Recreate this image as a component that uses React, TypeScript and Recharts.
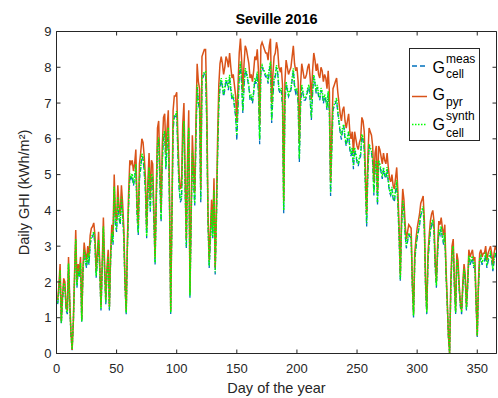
import React from 'react';
import { LineChart, Line, XAxis, YAxis, Legend, Label } from 'recharts';

const FONT = '"Liberation Sans", Arial, Helvetica, sans-serif';
const AXIS = '#262626';
const C_MEAS = '#0072BD';
const C_PYR = '#D95319';
const C_SYN = '#00FF00';

const xTicks = [0, 50, 100, 150, 200, 250, 300, 350];
const yTicks = [0, 1, 2, 3, 4, 5, 6, 7, 8, 9];

const gPyr = [
  1.5, 1.9, 2.5, 0.9, 1.6, 2.1, 2.0, 1.3, 1.2, 2.7,
  1.5, 0.6, 0.1, 0.9, 2.2, 3.45, 2.0, 2.5, 2.3, 2.7,
  0.95, 2.4, 3.1, 2.8, 2.6, 3.0, 2.7, 3.3, 3.5, 3.55,
  3.65, 3.3, 2.3, 2.8, 3.4, 2.5, 1.3, 2.5, 3.8, 2.5,
  1.5, 2.4, 2.9, 1.3, 2.8, 3.6, 3.3, 5.0, 3.9, 3.7,
  4.7, 4.1, 3.9, 4.7, 4.2, 3.5, 2.0, 1.2, 3.2, 4.5,
  5.4, 5.3, 5.4, 5.1, 5.3, 5.7, 4.2, 3.6, 5.3, 5.6,
  6.0, 5.9, 5.5, 4.9, 3.5, 4.8, 5.6, 4.3, 5.4, 5.3,
  4.0, 2.7, 4.5, 6.3, 6.5, 5.2, 4.0, 5.8, 6.6, 6.7,
  5.6, 6.3, 6.8, 4.5, 1.2, 4.0, 6.8, 7.2, 7.2, 7.3,
  6.0, 5.0, 4.6, 4.7, 6.4, 7.0, 5.0, 3.2, 5.5, 6.8,
  1.7, 4.0, 6.1, 5.2, 4.5, 6.5, 8.1, 7.6, 7.4, 4.6,
  8.3, 8.4, 8.5, 8.5, 7.0, 4.0, 2.6, 3.4, 4.3, 3.5,
  4.9, 2.4, 4.0, 6.0, 7.5, 8.1, 8.3, 8.1, 7.8, 8.0,
  8.3, 8.2, 8.0, 8.4, 8.0, 7.7, 7.8, 7.5, 7.2, 6.5,
  7.5, 8.4, 8.8, 8.2, 7.3, 8.1, 8.6, 8.5, 8.3, 8.1,
  7.7, 7.8, 7.6, 7.9, 8.3, 8.2, 8.5, 7.9, 6.4, 8.6,
  8.7, 8.6, 8.5, 8.4, 8.4, 8.2, 8.6, 8.8, 7.0, 7.8,
  8.3, 8.4, 8.7, 8.5, 8.0, 7.9, 8.0, 7.5, 4.25, 7.6,
  8.2, 8.0, 7.8, 7.9, 8.0, 8.3, 8.6, 8.1, 7.9, 8.0,
  7.6, 5.9, 7.5, 8.1, 7.9, 7.7, 7.7, 7.8, 8.0, 8.1,
  7.7, 7.1, 7.9, 8.4, 8.2, 7.9, 8.1, 7.8, 7.7, 8.0,
  7.9, 7.6, 7.8, 7.7, 7.4, 7.9, 7.3, 4.8, 6.2, 7.4,
  7.5, 7.6, 7.7, 7.3, 7.0, 6.7, 6.5, 6.8, 6.9, 6.5,
  6.3, 6.5, 6.7, 6.2, 6.0, 6.2, 5.6, 6.2, 6.0, 5.8,
  5.7, 5.9, 6.0, 6.6, 6.5, 6.2, 5.0, 3.9, 5.5, 6.3,
  6.2, 6.1, 5.8, 4.8, 5.6, 5.8, 4.5, 5.8, 5.7, 5.5,
  5.3, 5.6, 5.4, 5.3, 5.6, 5.2, 4.9, 4.8, 5.0, 4.7,
  4.6, 4.9, 5.2, 4.5, 3.5, 2.2, 3.8, 4.6, 4.3, 3.6,
  3.2, 3.4, 3.6, 3.55, 3.5, 2.0, 1.1, 2.8, 3.2, 3.5,
  3.7, 3.9, 4.2, 4.3, 4.4, 3.7, 2.0, 1.2, 2.8, 3.3,
  3.7, 3.9, 4.0, 3.7, 2.6, 2.0, 3.0, 3.7, 3.6, 3.8,
  3.5, 3.3, 3.6, 2.4, 1.5, 0.5, 0.0, 2.0, 3.0, 3.2,
  2.0, 1.2, 2.8, 2.6, 1.9, 1.4, 1.2, 2.0, 2.5, 2.2,
  1.3, 2.0, 2.9, 2.7, 2.8, 2.9, 2.6, 2.7, 1.5, 0.5,
  2.0, 2.8, 2.9, 2.7, 2.8, 2.8, 3.0, 2.6, 2.8, 2.9,
  3.0, 2.8, 2.5, 2.8, 3.0, 2.9,
];

const gMeas = [
  1.38, 1.75, 2.30, 0.83, 1.47, 1.93, 1.84, 1.20, 1.10, 2.48,
  1.38, 0.55, 0.09, 0.83, 2.02, 3.17, 1.84, 2.30, 2.12, 2.48,
  0.87, 2.21, 2.85, 2.58, 2.39, 2.76, 2.48, 3.04, 3.22, 3.27,
  3.36, 3.04, 2.12, 2.58, 3.13, 2.30, 1.20, 2.30, 3.50, 2.30,
  1.38, 2.21, 2.67, 1.20, 2.58, 3.31, 3.04, 4.60, 3.59, 3.40,
  4.32, 3.77, 3.59, 4.32, 3.86, 3.22, 1.84, 1.10, 2.94, 4.14,
  4.97, 4.88, 4.97, 4.69, 4.88, 5.24, 3.86, 3.31, 4.88, 5.15,
  5.52, 5.43, 5.06, 4.51, 3.22, 4.42, 5.15, 3.96, 4.97, 4.88,
  3.68, 2.48, 4.14, 5.80, 5.98, 4.78, 3.68, 5.34, 6.07, 6.16,
  5.15, 5.80, 6.26, 4.14, 1.10, 3.68, 6.26, 6.62, 6.62, 6.72,
  5.52, 4.60, 4.23, 4.32, 5.89, 6.44, 4.60, 2.94, 5.06, 6.26,
  1.56, 3.68, 5.61, 4.78, 4.14, 5.98, 7.45, 6.99, 6.81, 4.23,
  7.64, 7.73, 7.82, 7.82, 6.44, 3.68, 2.39, 3.13, 3.96, 3.22,
  4.51, 2.21, 3.68, 5.52, 6.90, 7.45, 7.64, 7.45, 7.18, 7.36,
  7.64, 7.54, 7.36, 7.73, 7.36, 7.08, 7.18, 6.90, 6.62, 5.95,
  6.90, 7.73, 8.10, 7.54, 6.72, 7.45, 7.91, 7.82, 7.64, 7.45,
  7.08, 7.18, 6.99, 7.27, 7.64, 7.54, 7.82, 7.27, 5.85, 7.91,
  8.00, 7.91, 7.82, 7.73, 7.73, 7.54, 7.91, 8.10, 6.44, 7.18,
  7.64, 7.73, 8.00, 7.82, 7.36, 7.27, 7.36, 6.90, 3.92, 6.99,
  7.54, 7.36, 7.18, 7.27, 7.36, 7.64, 7.91, 7.45, 7.27, 7.36,
  6.99, 5.35, 6.90, 7.45, 7.27, 7.08, 7.08, 7.18, 7.36, 7.45,
  7.08, 6.53, 7.27, 7.73, 7.54, 7.27, 7.45, 7.18, 7.08, 7.36,
  7.27, 6.99, 7.18, 7.08, 6.81, 7.27, 6.72, 4.40, 5.70, 6.81,
  6.90, 6.99, 7.08, 6.72, 6.44, 6.16, 5.98, 6.26, 6.35, 5.98,
  5.80, 5.98, 6.16, 5.70, 5.52, 5.70, 5.15, 5.70, 5.52, 5.34,
  5.24, 5.43, 5.52, 6.07, 5.98, 5.70, 4.60, 3.55, 5.06, 5.80,
  5.70, 5.61, 5.34, 4.42, 5.15, 5.34, 4.14, 5.34, 5.24, 5.06,
  4.88, 5.15, 4.97, 4.88, 5.15, 4.78, 4.51, 4.42, 4.60, 4.32,
  4.23, 4.51, 4.78, 4.14, 3.22, 2.02, 3.50, 4.23, 3.96, 3.31,
  2.94, 3.13, 3.31, 3.27, 3.22, 1.84, 1.01, 2.58, 2.94, 3.22,
  3.40, 3.59, 3.86, 3.96, 4.05, 3.40, 1.84, 1.10, 2.58, 3.04,
  3.40, 3.59, 3.68, 3.40, 2.39, 1.84, 2.76, 3.40, 3.31, 3.50,
  3.22, 3.04, 3.31, 2.21, 1.38, 0.46, 0.00, 1.84, 2.76, 2.94,
  1.84, 1.10, 2.58, 2.39, 1.75, 1.29, 1.10, 1.84, 2.30, 2.02,
  1.20, 1.84, 2.67, 2.48, 2.58, 2.67, 2.39, 2.48, 1.38, 0.46,
  1.84, 2.58, 2.67, 2.48, 2.58, 2.58, 2.76, 2.39, 2.58, 2.67,
  2.76, 2.58, 2.30, 2.58, 2.76, 2.67,
];

const gSynth = [
  1.42, 1.80, 2.33, 0.86, 1.52, 1.97, 1.90, 1.24, 1.15, 2.52,
  1.43, 0.58, 0.12, 0.88, 2.07, 3.20, 1.90, 2.35, 2.16, 2.53,
  0.90, 2.27, 2.90, 2.62, 2.45, 2.80, 2.54, 3.08, 3.27, 3.31,
  3.41, 3.09, 2.17, 2.63, 3.18, 2.35, 1.25, 2.36, 3.55, 2.35,
  1.43, 2.27, 2.72, 1.25, 2.63, 3.37, 3.10, 4.66, 3.65, 3.46,
  4.38, 3.83, 3.65, 4.38, 3.92, 3.27, 1.90, 1.14, 3.00, 4.20,
  5.03, 4.94, 5.03, 4.75, 4.94, 5.30, 3.92, 3.37, 4.94, 5.21,
  5.58, 5.49, 5.12, 4.57, 3.28, 4.48, 5.21, 4.02, 5.03, 4.94,
  3.74, 2.54, 4.20, 5.86, 6.04, 4.84, 3.74, 5.40, 6.13, 6.22,
  5.21, 5.86, 6.32, 4.20, 1.14, 3.74, 6.32, 6.68, 6.68, 6.78,
  5.58, 4.66, 4.29, 4.38, 5.95, 6.50, 4.66, 3.00, 5.12, 6.32,
  1.62, 3.74, 5.67, 4.84, 4.20, 6.04, 7.51, 7.05, 6.87, 4.29,
  7.70, 7.79, 7.88, 7.88, 6.50, 3.74, 2.45, 3.19, 4.02, 3.28,
  4.57, 2.27, 3.74, 5.58, 6.96, 7.51, 7.70, 7.51, 7.24, 7.42,
  7.70, 7.60, 7.42, 7.79, 7.42, 7.14, 7.24, 6.96, 6.68, 6.10,
  6.96, 7.79, 8.16, 7.60, 6.78, 7.51, 7.97, 7.88, 7.70, 7.51,
  7.14, 7.24, 7.05, 7.33, 7.70, 7.60, 7.88, 7.33, 6.00, 7.97,
  8.06, 7.97, 7.88, 7.79, 7.79, 7.60, 7.97, 8.16, 6.52, 7.24,
  7.70, 7.79, 8.06, 7.88, 7.42, 7.33, 7.42, 6.96, 4.00, 7.05,
  7.60, 7.42, 7.24, 7.33, 7.42, 7.70, 7.97, 7.51, 7.33, 7.42,
  7.05, 5.45, 6.96, 7.51, 7.33, 7.14, 7.14, 7.24, 7.42, 7.51,
  7.14, 6.60, 7.33, 7.79, 7.60, 7.33, 7.51, 7.24, 7.14, 7.42,
  7.33, 7.05, 7.24, 7.14, 6.87, 7.33, 6.78, 4.50, 5.76, 6.87,
  6.96, 7.05, 7.14, 6.78, 6.50, 6.22, 6.10, 6.32, 6.41, 6.04,
  5.86, 6.04, 6.22, 5.76, 5.58, 5.76, 5.25, 5.76, 5.58, 5.40,
  5.30, 5.49, 5.58, 6.13, 6.04, 5.76, 4.66, 3.65, 5.12, 5.86,
  5.76, 5.67, 5.40, 4.50, 5.21, 5.40, 4.22, 5.40, 5.30, 5.12,
  4.94, 5.21, 5.03, 4.94, 5.21, 4.84, 4.57, 4.48, 4.66, 4.38,
  4.29, 4.57, 4.84, 4.20, 3.28, 2.08, 3.56, 4.29, 4.02, 3.37,
  3.00, 3.19, 3.37, 3.33, 3.28, 1.90, 1.06, 2.64, 3.00, 3.28,
  3.46, 3.65, 3.92, 4.02, 4.11, 3.46, 1.90, 1.15, 2.64, 3.10,
  3.46, 3.65, 3.74, 3.46, 2.45, 1.90, 2.82, 3.46, 3.37, 3.56,
  3.28, 3.10, 3.37, 2.27, 1.43, 0.50, 0.02, 1.90, 2.82, 3.00,
  1.90, 1.15, 2.64, 2.45, 1.80, 1.34, 1.15, 1.90, 2.36, 2.08,
  1.25, 1.90, 2.73, 2.54, 2.64, 2.73, 2.45, 2.54, 1.43, 0.50,
  1.90, 2.64, 2.73, 2.54, 2.64, 2.64, 2.82, 2.45, 2.64, 2.73,
  2.82, 2.64, 2.36, 2.64, 2.82, 2.73,
];

const data = gPyr.map((v, i) => ({
  day: i + 1,
  pyr: v,
  meas: gMeas[i],
  synth: gSynth[i],
}));

const renderLegend = () => (
  <svg width={71} height={93} style={{ display: 'block', fontFamily: FONT }}>
    <rect x={0.5} y={0.5} width={70} height={92} fill="#fff" stroke={AXIS} strokeWidth={1} />
    <line x1={3} x2={18} y1={18} y2={18} stroke={C_MEAS} strokeWidth={1.3} strokeDasharray="5 3" />
    <text x={23.5} y={25} fontSize={16} fill="#000">G</text>
    <text x={37} y={15} fontSize={12} fill="#000">meas</text>
    <text x={37} y={30} fontSize={12} fill="#000">cell</text>

    <line x1={3} x2={18} y1={48.5} y2={48.5} stroke={C_PYR} strokeWidth={1.5} />
    <text x={23.5} y={52} fontSize={16} fill="#000">G</text>
    <text x={37} y={58} fontSize={12} fill="#000">pyr</text>

    <line x1={3} x2={18} y1={76.5} y2={76.5} stroke={C_SYN} strokeWidth={1.5} strokeDasharray="1.5 1.5" />
    <text x={23.5} y={82} fontSize={16} fill="#000">G</text>
    <text x={37} y={72} fontSize={12} fill="#000">synth</text>
    <text x={37} y={89} fontSize={12} fill="#000">cell</text>
  </svg>
);

const tickStyle = { fill: AXIS, fontSize: 13, fontFamily: FONT };
const noTickLabel = () => <g />;

export default function App() {
  return (
    <div style={{ position: 'absolute', left: 0, top: 0, width: 498, height: 398, background: '#fff' }}>
      <LineChart
        width={498}
        height={398}
        data={data}
        margin={{ top: 30.5, right: 0.5, bottom: 0, left: 0 }}
      >
        <XAxis
          dataKey="day"
          type="number"
          domain={[0, 366]}
          ticks={xTicks}
          interval={0}
          allowDataOverflow
          height={44.5}
          tickSize={-4}
          tickMargin={14}
          tick={tickStyle}
          tickLine={{ stroke: AXIS }}
          axisLine={{ stroke: AXIS }}
        >
          <Label
            content={(p: any) => {
              const vb = p.viewBox;
              return (
                <text
                  x={vb.x + vb.width / 2}
                  y={vb.y + 39}
                  textAnchor="middle"
                  fontSize={14.5}
                  fontFamily={FONT}
                  fill={AXIS}
                >
                  Day of the year
                </text>
              );
            }}
          />
        </XAxis>
        <XAxis
          xAxisId="top"
          orientation="top"
          dataKey="day"
          type="number"
          domain={[0, 366]}
          ticks={xTicks}
          interval={0}
          allowDataOverflow
          height={1}
          tickSize={-4}
          tick={noTickLabel}
          tickLine={{ stroke: AXIS }}
          axisLine={{ stroke: AXIS }}
        >
          <Label
            content={(p: any) => {
              const vb = p.viewBox;
              return (
                <text
                  x={vb.x + vb.width / 2}
                  y={24}
                  textAnchor="middle"
                  fontSize={14.5}
                  fontWeight="bold"
                  fontFamily={FONT}
                  fill="#000"
                >
                  Seville 2016
                </text>
              );
            }}
          />
        </XAxis>
        <YAxis
          type="number"
          domain={[0, 9]}
          ticks={yTicks}
          interval={0}
          width={56.5}
          tickSize={-4}
          tickMargin={9}
          tick={tickStyle}
          tickLine={{ stroke: AXIS }}
          axisLine={{ stroke: AXIS }}
        >
          <Label
            content={(p: any) => {
              const vb = p.viewBox;
              const cx = 29;
              const cy = vb.y + vb.height / 2;
              return (
                <text
                  x={cx}
                  y={cy}
                  transform={`rotate(-90 ${cx} ${cy})`}
                  textAnchor="middle"
                  fontSize={14.5}
                  fontFamily={FONT}
                  fill={AXIS}
                >
                  Daily GHI (kWh/m²)
                </text>
              );
            }}
          />
        </YAxis>
        <YAxis
          yAxisId="right"
          orientation="right"
          type="number"
          domain={[0, 9]}
          ticks={yTicks}
          interval={0}
          allowDataOverflow
          width={1}
          tickSize={-4}
          tick={noTickLabel}
          tickLine={{ stroke: AXIS }}
          axisLine={{ stroke: AXIS }}
        />
        <Line
          xAxisId="top"
          yAxisId="right"
          dataKey="pyr"
          stroke="none"
          strokeWidth={0}
          dot={false}
          activeDot={false}
          legendType="none"
          isAnimationActive={false}
        />
        <Line
          dataKey="meas"
          stroke={C_MEAS}
          strokeWidth={1.3}
          strokeDasharray="5 3"
          dot={false}
          activeDot={false}
          isAnimationActive={false}
        />
        <Line
          dataKey="pyr"
          stroke={C_PYR}
          strokeWidth={1.5}
          dot={false}
          activeDot={false}
          isAnimationActive={false}
        />
        <Line
          dataKey="synth"
          stroke={C_SYN}
          strokeWidth={1.5}
          strokeDasharray="1.5 1.5"
          dot={false}
          activeDot={false}
          isAnimationActive={false}
        />
        <Legend
          content={renderLegend}
          layout="vertical"
          align="center"
          verticalAlign="middle"
          wrapperStyle={{ left: 409, top: 48, width: 71, height: 93 }}
        />
      </LineChart>
    </div>
  );
}
